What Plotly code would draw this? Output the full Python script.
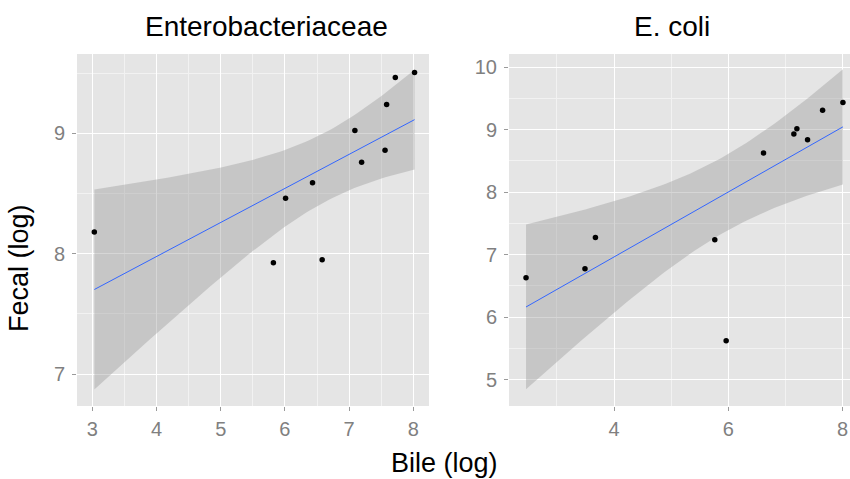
import numpy as np
import plotly.graph_objects as go

W, H = 850, 479

# ---- data ----
entero_bile = [3.03, 5.82, 6.01, 6.43, 6.58, 7.09, 7.195, 7.56, 7.585, 7.72, 8.02]
entero_fecal = [8.18, 7.925, 8.46, 8.59, 7.95, 9.025, 8.76, 8.86, 9.24, 9.465, 9.507]

ecoli_bile = [2.458, 3.49, 3.673, 5.763, 5.962, 6.616, 7.147, 7.2, 7.387, 7.65, 8.006]
ecoli_fecal = [6.63, 6.775, 7.276, 7.24, 5.624, 8.625, 8.929, 9.014, 8.838, 9.312, 9.435]

panel_titles = ["Enterobacteriaceae", "E. coli"]
x_title = "Bile (log)"
y_title = "Fecal (log)"

T975_DF9 = 2.262157  # t quantile, 95% CI, df = n - 2 = 9


def lm_band(x, y, n=80):
    x = np.asarray(x, float)
    y = np.asarray(y, float)
    xm, ym = x.mean(), y.mean()
    sxx = ((x - xm) ** 2).sum()
    b = ((x - xm) * (y - ym)).sum() / sxx
    a = ym - b * xm
    res = y - (a + b * x)
    s = np.sqrt((res ** 2).sum() / (len(x) - 2))
    xs = np.linspace(x.min(), x.max(), n)
    fit = a + b * xs
    se = s * np.sqrt(1 / len(x) + (xs - xm) ** 2 / sxx)
    return xs, fit, fit - T975_DF9 * se, fit + T975_DF9 * se


def px_x(p):
    return p / W


def px_y(p):
    return 1 - p / H


fig = go.Figure()

panels = [
    (entero_bile, entero_fecal, "x", "y"),
    (ecoli_bile, ecoli_fecal, "x2", "y2"),
]
for xb, yf, xa, ya in panels:
    xs, fit, lo, hi = lm_band(xb, yf)
    fig.add_trace(go.Scatter(
        x=np.concatenate([xs, xs[::-1]]), y=np.concatenate([hi, lo[::-1]]),
        fill="toself", fillcolor="rgba(153,153,153,0.4)", line=dict(width=0),
        mode="lines", hoverinfo="skip", showlegend=False, xaxis=xa, yaxis=ya))
    fig.add_trace(go.Scatter(
        x=xs, y=fit, mode="lines", line=dict(color="#3366FF", width=1),
        showlegend=False, xaxis=xa, yaxis=ya))
    fig.add_trace(go.Scatter(
        x=xb, y=yf, mode="markers", marker=dict(color="black", size=5.5),
        showlegend=False, xaxis=xa, yaxis=ya))

tickfont = dict(family="Liberation Sans, Arial, sans-serif", size=20, color="#808080")
common = dict(
    showgrid=True, gridcolor="white", gridwidth=1.1, zeroline=False,
    ticks="outside", ticklen=4, tickcolor="#9a9a9a", tickwidth=1,
    tickfont=tickfont, showline=False,
)
minor_y = dict(showgrid=True, gridcolor="#F2F2F2", gridwidth=0.6, dtick=1, tick0=0.5)

fig.update_layout(
    width=W, height=H,
    margin=dict(l=0, r=0, t=0, b=0),
    paper_bgcolor="white", plot_bgcolor="#E5E5E5",
    font=dict(family="Liberation Sans, Arial, sans-serif"),
    xaxis=dict(domain=[px_x(77), px_x(429)], range=[2.76, 8.245], dtick=1, tick0=0,
               minor=dict(showgrid=True, gridcolor="#F2F2F2", gridwidth=0.6, dtick=1, tick0=0.5),
               anchor="y", ticklabelstandoff=1, **common),
    yaxis=dict(domain=[px_y(406), px_y(54)], range=[6.734, 9.66], dtick=1, tick0=0,
               minor=minor_y, anchor="x", ticklabelstandoff=3, **common),
    xaxis2=dict(domain=[px_x(509), 1.0], range=[2.16, 8.13], dtick=2, tick0=0,
                minor=dict(showgrid=True, gridcolor="#F2F2F2", gridwidth=0.6, dtick=2, tick0=1),
                anchor="y2", ticklabelstandoff=1, **common),
    yaxis2=dict(domain=[px_y(406), px_y(54)], range=[4.58, 10.21], dtick=1, tick0=0,
                minor=minor_y, anchor="x2", ticklabelstandoff=3, **common),
)

title_font = dict(family="Liberation Sans, Arial, sans-serif", size=28, color="black")
axis_title_font = dict(family="Liberation Sans, Arial, sans-serif", size=27, color="black")
fig.add_annotation(text=panel_titles[0], x=px_x(266), y=px_y(26), xref="paper", yref="paper",
                   xanchor="center", yanchor="middle", showarrow=False, font=title_font)
fig.add_annotation(text=panel_titles[1], x=px_x(672), y=px_y(26), xref="paper", yref="paper",
                   xanchor="center", yanchor="middle", showarrow=False, font=title_font)
fig.add_annotation(text=x_title, x=px_x(444), y=px_y(463), xref="paper", yref="paper",
                   xanchor="center", yanchor="middle", showarrow=False, font=axis_title_font)
fig.add_annotation(text=y_title, x=px_x(19), y=px_y(268), xref="paper", yref="paper",
                   xanchor="center", yanchor="middle", showarrow=False, textangle=-90,
                   font=axis_title_font)

fig.write_html("out.html")
